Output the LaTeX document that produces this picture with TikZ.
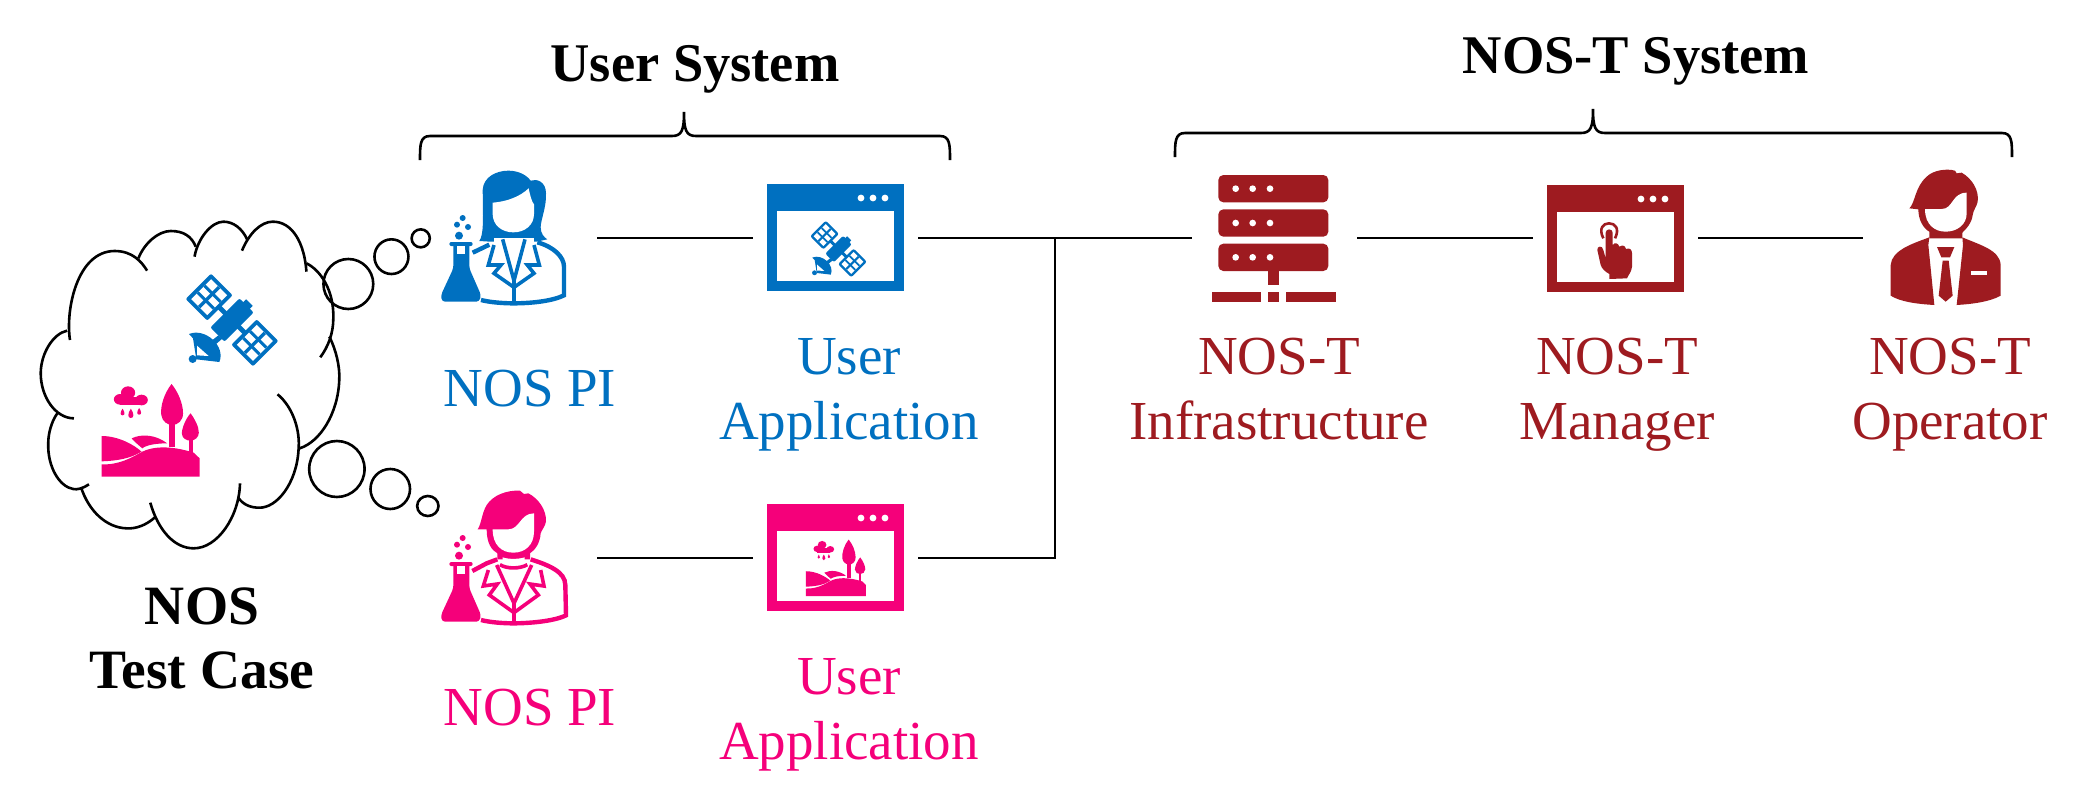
\documentclass[tikz,border=0pt]{standalone}
\usepackage{fontspec}
\setmainfont{Liberation Serif}

\definecolor{nosblue}{HTML}{0070C0}
\definecolor{nospink}{HTML}{F5007A}
\definecolor{nosred}{HTML}{9E1B20}

\tikzset{
    slot/.style   = {minimum width=165pt, minimum height=107pt, inner sep=0pt},
    link/.style   = {line width=2.6pt},
    bubble/.style = {line width=2.6pt},
    lbl/.style    = {font=\fontsize{55}{65}\selectfont, align=center, inner sep=0pt},
    head/.style   = {font=\fontsize{54.5}{64}\selectfont\bfseries, align=center, inner sep=0pt},
    % one application window, origin at its top left corner
    pics/appwindow/.style = {code = {
        \fill (0,0) rectangle (137,107);
        \fill[white] (10,27) rectangle (127,97);
        \fill[white] (94,14) circle[radius=3.4];
        \fill[white] (106,14) circle[radius=3.4];
        \fill[white] (118,14) circle[radius=3.4];
    }},
    pics/sunpanel/.style = {code = {
        \fill[rounded corners=2pt] (-46,-54) rectangle (46,54);
        \fill[white] (-34,-42) rectangle (34,42);
        \fill (-5,-42) rectangle (5,42);
        \fill (-34,-19) rectangle (34,-10);
        \fill (-34,10) rectangle (34,19);
    }},
    % origin at the middle of the body
    pics/satellite/.style = {code = {
        \begin{scope}[rotate=-45]
            \pic[transform shape] at (-97,0) {sunpanel};
            \pic[transform shape] at (97,0) {sunpanel};
            \fill (-55,-7) rectangle (55,7);
            \fill[rounded corners=2pt] (-30,-62) rectangle (30,62);
            \fill (-14,-74) rectangle (14,-58);
        \end{scope}
        \fill (-129,42) .. controls (-79,22) and (-18,80) .. (-38,126)
            -- (-107,118) -- (-117,55) -- cycle;
        \fill (-61,62) -- (-41,46) -- (-29,56) -- (-50,74) -- cycle;
        \fill (-118,117) circle[radius=12];
        \fill[white] (-105,77) -- (-105,106) -- (-70,108) -- cycle;
    }},
    pics/landscape/.style = {code = {
        \begin{scope}[xscale=1.186]
        \fill (257,943) .. controls (300,945) and (330,925) .. (360,905)
            .. controls (385,890) and (430,885) .. (490,908)
            -- (505,925) -- (505,980) -- (257,980) -- cycle;
        \fill (257,858) .. controls (300,858) and (340,885) .. (358,905)
            .. controls (330,925) and (300,932) .. (257,934) -- cycle;
        \fill (333,865) .. controls (360,850) and (395,855) .. (423,880)
            .. controls (395,880) and (370,885) .. (360,895)
            .. controls (350,885) and (340,875) .. (333,865) -- cycle;
        \fill (428,815) rectangle (442,892);
        \fill (434,702) .. controls (415,730) and (405,770) .. (408,795)
            .. controls (410,815) and (425,825) .. (435,825)
            .. controls (450,825) and (463,812) .. (463,790)
            .. controls (463,760) and (450,725) .. (434,702) -- cycle;
        \fill (477,865) rectangle (487,912);
        \fill (482,790) .. controls (470,805) and (460,835) .. (460,850)
            .. controls (460,865) and (472,872) .. (482,872)
            .. controls (492,872) and (503,862) .. (503,848)
            .. controls (503,830) and (492,805) .. (482,790) -- cycle;
        % rain cloud
        \fill (324,728) ellipse[x radius=18, y radius=19];
        \fill (304,748) ellipse[x radius=16, y radius=16];
        \fill (358,750) ellipse[x radius=16, y radius=16];
        \fill (304,742) rectangle (358,766);
        \fill (310,776) .. controls (304,786) and (303,796) .. (310,796)
            .. controls (317,796) and (316,786) .. (310,776) -- cycle;
        \fill (331,776) .. controls (323,790) and (322,804) .. (331,804)
            .. controls (340,804) and (339,790) .. (331,776) -- cycle;
        \fill (352,774) .. controls (346,784) and (345,794) .. (352,794)
            .. controls (359,794) and (358,784) .. (352,774) -- cycle;
        \end{scope}
    }},
    pics/flask/.style = {code = {
        \fill (117,377) circle[radius=12];
        \fill (111,344) circle[radius=9];
        \fill (144,351) circle[radius=9];
        \fill (128,324) circle[radius=9];
        \fill[rounded corners=2pt] (88,396) rectangle (158,408);
        \fill[rounded corners=3pt] (100,400) -- (100,475) -- (63,555) -- (66,575)
            -- (178,575) -- (183,555) -- (148,475) -- (148,400) -- cycle;
        \fill[white] (110,408) rectangle (136,433);
    }},
    pics/scientist/.style = {code = {
        \pic[transform shape] {flask};
        \fill (188,240) .. controls (190,200) and (230,182) .. (265,182)
            .. controls (295,182) and (320,195) .. (332,212)
            .. controls (350,205) and (378,215) .. (378,250)
            .. controls (380,290) and (362,330) .. (362,352)
            .. controls (362,370) and (372,382) .. (382,388)
            -- (350,395) -- (210,395) -- (178,393)
            .. controls (190,375) and (190,340) .. (188,240) -- cycle;
        \fill[white] (218,278) .. controls (260,275) and (300,260) .. (326,235)
            .. controls (330,255) and (335,275) .. (342,283) -- (342,312)
            .. controls (342,345) and (315,367) .. (280,367)
            .. controls (245,367) and (218,345) .. (218,312) -- cycle;
        \fill[white] (222,384) -- (342,384) -- (342,396) -- (222,396) -- cycle;
        \begin{scope}[line width=4.4pt]
            \draw (352,397) .. controls (400,410) and (432,440) .. (432,470) -- (432,556)
                .. controls (400,572) and (340,580) .. (280,580)
                .. controls (250,580) and (210,577) .. (183,570);
            \draw (208,404) -- (158,428);
            \draw[line width=3.6pt] (222,405) -- (205,465) -- (243,465) -- (222,490) -- (282,532)
                -- (342,490) -- (322,465) -- (358,465) -- (342,405);
            \draw[line width=3.6pt] (248,388) -- (282,512) -- (315,388);
            \draw (282,512) -- (282,572);
        \end{scope}
    }},
    pics/manscientist/.style = {code = {
        \pic[transform shape] at (0,-120) {flask};
        \fill (173,178) .. controls (185,160) and (185,130) .. (200,105)
            .. controls (220,75) and (260,60) .. (300,62) -- (312,72) -- (325,70)
            .. controls (355,85) and (380,120) .. (378,155)
            .. controls (375,170) and (365,180) .. (362,190)
            .. controls (360,220) and (345,240) .. (330,250) -- (330,268)
            -- (232,268) -- (232,250) .. controls (215,240) and (200,220) .. (200,178) -- cycle;
        \fill[white] (218,178) -- (265,178) .. controls (300,178) and (300,130) .. (342,130)
            -- (342,185) .. controls (342,225) and (315,248) .. (280,248)
            .. controls (245,248) and (218,225) .. (218,178) -- cycle;
        \fill[white] (248,262) .. controls (265,268) and (295,268) .. (314,262) -- (314,272)
            .. controls (295,276) and (265,276) .. (248,272) -- cycle;
        \begin{scope}[line width=4.4pt]
            \draw (332,268) .. controls (385,285) and (436,305) .. (436,345) -- (438,436)
                .. controls (400,455) and (320,460) .. (280,460)
                .. controls (250,460) and (210,457) .. (183,450);
            \draw (232,268) -- (200,280) -- (157,303);
            \draw[line width=3.6pt] (205,300) -- (190,348) -- (232,342) -- (208,375) -- (282,428)
                -- (355,375) -- (330,342) -- (372,348) -- (362,300);
            \draw[line width=3.6pt] (230,285) -- (282,400) -- (335,285);
            \draw[line width=3.6pt] (240,284) .. controls (260,297) and (300,297) .. (322,284);
            \draw (282,400) -- (282,452);
        \end{scope}
    }},
    pics/rackserver/.style = {code = {
        \fill[rounded corners=5pt] (85,75) rectangle (415,157);
        \fill[rounded corners=5pt] (85,178) rectangle (415,260);
        \fill[rounded corners=5pt] (85,281) rectangle (415,363);
        \fill (235,360) rectangle (266,405);
        \fill (65,425) rectangle (214,456);
        \fill (235,425) rectangle (266,456);
        \fill (287,425) rectangle (437,456);
        \fill[white] (137,116) circle[radius=10];
        \fill[white] (188,116) circle[radius=10];
        \fill[white] (240,116) circle[radius=10];
        \fill[white] (137,219) circle[radius=10];
        \fill[white] (188,219) circle[radius=10];
        \fill[white] (240,219) circle[radius=10];
        \fill[white] (137,322) circle[radius=10];
        \fill[white] (188,322) circle[radius=10];
        \fill[white] (240,322) circle[radius=10];
    }},
    pics/touchhand/.style = {code = {
        \draw[line width=2.6pt] (1240,265) .. controls (1225,235) and (1240,220) .. (1257,220)
            .. controls (1275,220) and (1290,235) .. (1275,265);
        \fill (1247,325) -- (1247,248) .. controls (1247,235) and (1268,235) .. (1268,248)
            -- (1268,285) .. controls (1275,275) and (1285,280) .. (1288,290)
            .. controls (1300,283) and (1305,288) .. (1308,297)
            .. controls (1320,292) and (1326,300) .. (1326,310) -- (1326,350)
            .. controls (1325,365) and (1315,375) .. (1311,385) -- (1258,387) -- (1258,372)
            .. controls (1245,365) and (1235,355) .. (1232,345) -- (1222,300)
            .. controls (1220,288) and (1238,285) .. (1240,300) -- cycle;
    }},
    pics/operator/.style = {code = {
        \fill (628,175) .. controls (645,160) and (645,110) .. (680,80)
            .. controls (700,60) and (740,55) .. (765,62) -- (770,70) -- (785,68)
            .. controls (815,85) and (838,120) .. (833,155)
            .. controls (830,170) and (820,180) .. (818,195)
            .. controls (815,220) and (800,235) .. (787,248) -- (787,265) -- (688,265) -- (688,245)
            .. controls (670,235) and (655,210) .. (655,178) -- cycle;
        \fill[white] (675,177) -- (725,177) .. controls (760,177) and (755,128) .. (800,128)
            -- (800,190) .. controls (800,225) and (770,245) .. (737,245)
            .. controls (705,245) and (675,225) .. (675,177) -- cycle;
        \fill (688,262) .. controls (640,280) and (575,300) .. (572,345) -- (572,437)
            .. controls (600,455) and (650,462) .. (703,465) -- (685,285) -- cycle;
        \fill (787,262) .. controls (840,285) and (900,300) .. (902,345) -- (902,437)
            .. controls (870,455) and (820,462) .. (770,465) -- (789,285) -- cycle;
        \fill (711,291) -- (763,291) -- (750,322) -- (724,322) -- cycle;
        \fill (728,332) -- (746,332) -- (758,437) -- (737,455) -- (716,437) -- cycle;
        \fill[white] (813,362) rectangle (861,374);
    }},
}

\begin{document}
\begin{tikzpicture}[x=1pt,y=-1pt]
    \useasboundingbox (0,0) rectangle (2087,801);

    \def\Utop{238};
    \def\Ulow{558};

    % The thought cloud.
    \begin{scope}[shift={(0,150)},xscale=.3954,yscale=1/3,line width=2.6pt]
        \draw (177,570) .. controls (165,480) and (195,303) .. (290,303) .. controls (335,303) and (358,335) .. (372,362);
        \draw (350,325) .. controls (365,280) and (400,243) .. (432,243) .. controls (465,243) and (485,260) .. (495,290);
        \draw (492,320) .. controls (500,265) and (535,215) .. (565,215) .. controls (590,215) and (612,235) .. (625,268);
        \draw (612,302) .. controls (630,250) and (660,215) .. (690,215) .. controls (740,215) and (770,280) .. (775,365);
        \draw (775,340) .. controls (810,360) and (845,420) .. (843,505) .. controls (843,550) and (830,590) .. (810,622);
        \draw (833,560) .. controls (850,600) and (860,650) .. (858,690) .. controls (855,790) and (810,875) .. (758,895);
        \draw (702,733) .. controls (740,770) and (760,840) .. (755,900) .. controls (750,1000) and (700,1075) .. (655,1073) .. controls (635,1073) and (615,1065) .. (602,1042);
        \draw (607,1000) .. controls (605,1100) and (550,1195) .. (490,1195) .. controls (440,1195) and (400,1140) .. (380,1058);
        \draw (392,1102) .. controls (370,1125) and (345,1137) .. (320,1135) .. controls (270,1133) and (225,1085) .. (205,1012);
        \draw (225,1003) .. controls (210,1015) and (195,1020) .. (185,1017) .. controls (150,1010) and (120,950) .. (122,880) .. controls (122,850) and (130,815) .. (145,790);
        \draw (187,805) .. controls (140,805) and (103,740) .. (103,670) .. controls (103,610) and (135,550) .. (170,542);
        \draw[bubble] (881,402) ellipse[x radius=63, y radius=75];
        \draw[bubble] (990,320) ellipse[x radius=43, y radius=52];
        \draw[bubble] (1064,265) ellipse[x radius=23, y radius=27];
        \draw[bubble] (852,957) ellipse[x radius=70, y radius=84];
        \draw[bubble] (987,1017) ellipse[x radius=50, y radius=60];
        \draw[bubble] (1082,1068) ellipse[x radius=27, y radius=30];
    \end{scope}

    % The test case inside the cloud.
    \pic[nosblue,scale=1/3] at (232,320) {satellite};
    \pic[nospink,scale=1/3] at (0,150) {landscape};
    \node[head,font=\fontsize{55.5}{64}\selectfont\bfseries] (testcase) at (202,638) {NOS\\Test Case};

    % The user side.
    \pic[nosblue,scale=1/3] at (420,110) {scientist};
    \pic[nosblue] at (767,184) {appwindow};
    \pic[nosblue,scale=.2033] at (838.5,249) {satellite};
    \pic[nospink,scale=1/3] at (420,470) {manscientist};
    \pic[nospink] at (767,504) {appwindow};
    \pic[nospink,scale=.2033] at (744,396.8) {landscape};

    % The NOS-T side.
    \pic[nosred,scale=1/3] at (1190,150) {rackserver};
    \pic[nosred] at (1547,185) {appwindow};
    \pic[nosred,scale=1/3] at (1190,150) {touchhand};
    \pic[nosred,scale=1/3] at (1700,150) {operator};

    % Slots that the connectors stop at.
    \node[slot] (bluepi)   at (514.5,\Utop) {};
    \node[slot] (blueapp)  at (835.5,\Utop) {};
    \node[slot] (server)   at (1274.5,\Utop) {};
    \node[slot] (manager)  at (1615.5,\Utop) {};
    \node[slot] (operator) at (1945.5,\Utop) {};
    \node[slot] (pinkpi)   at (514.5,\Ulow) {};
    \node[slot] (pinkapp)  at (835.5,\Ulow) {};
    \coordinate (junction) at (1055,\Utop);

    \draw[link] (bluepi) -- (blueapp);
    \draw[link] (blueapp) -- (server);
    \draw[link] (server) -- (manager);
    \draw[link] (manager) -- (operator);
    \draw[link] (pinkpi) -- (pinkapp);
    \draw[link] (pinkapp) -| (junction);

    % The labels.
    \node[lbl,text=nosblue] (bluepilbl)  at (530,389) {NOS PI};
    \node[lbl,text=nosblue] (blueapplbl) at (849,395) {User\\Application};
    \node[lbl,text=nospink] (pinkpilbl)  at (530,708) {NOS PI};
    \node[lbl,text=nospink] (pinkapplbl) at (849,715) {User\\Application};
    \node[lbl,text=nosred]  (serverlbl)  at (1279,389) {NOS-T\\Infrastructure};
    \node[lbl,text=nosred]  (managerlbl) at (1617,395) {NOS-T\\Manager};
    \node[lbl,text=nosred]  (operatorlbl) at (1950,395) {NOS-T\\Operator};

    % The two braces and their titles.
    \draw[link] (420,160) .. controls (420,145) and (420,136) .. (430,136) -- (672,136) .. controls (682,136) and (684,130) .. (684,112) .. controls (684,130) and (686,136) .. (696,136) -- (940,136) .. controls (950,136) and (950,145) .. (950,160);
    \draw[link] (1175,157) .. controls (1175,142) and (1175,133) .. (1185,133) -- (1581,133) .. controls (1591,133) and (1593,127) .. (1593,109) .. controls (1593,127) and (1595,133) .. (1605,133) -- (2002,133) .. controls (2012,133) and (2012,142) .. (2012,157);
    \node[head] (usertitle) at (695,69) {User System};
    \node[head] (nostitle)  at (1636,61) {NOS-T System};
\end{tikzpicture}
\end{document}
